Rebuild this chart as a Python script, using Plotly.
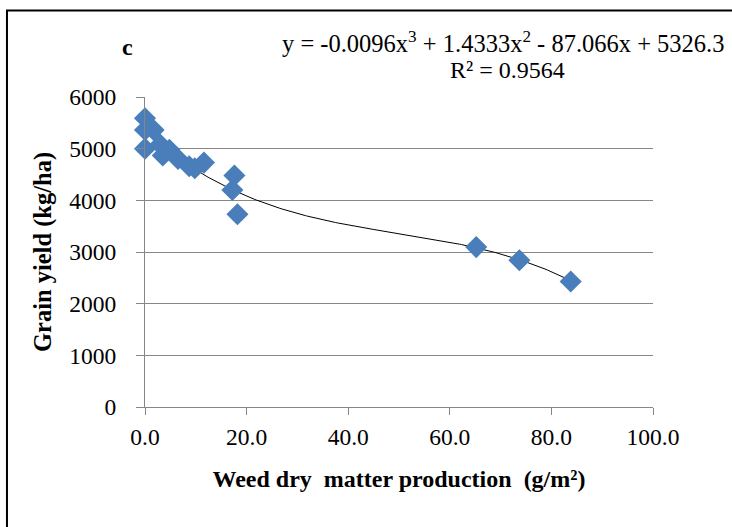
import numpy as np
import plotly.graph_objects as go

# Weed dry matter (g/m²) and grain yield (kg/ha)
weed_dm = [0.0, 0.0, 0.0, 1.7, 3.0, 3.5, 4.8, 6.5, 8.7, 9.8, 11.6,
           17.6, 17.2, 18.2, 65.2, 73.7, 83.8]
grain_yield = [5590, 5360, 5000, 5360, 5080, 4870, 4980, 4800, 4660, 4620, 4730,
               4480, 4200, 3730, 3095, 2840, 2430]

# Third-order polynomial trendline (highest power first)
trend_coef = [-0.0096, 1.4333, -87.066, 5326.3]
r_squared = 0.9564

x_ticks = [0, 20, 40, 60, 80, 100]
x_tick_text = ["0.0", "20.0", "40.0", "60.0", "80.0", "100.0"]
y_ticks = [0, 1000, 2000, 3000, 4000, 5000, 6000]

FONT = "Liberation Serif, Times New Roman, serif"
AXIS_GREY = "#868686"

xs = np.linspace(min(weed_dm), max(weed_dm), 200)
ys = np.polyval(trend_coef, xs)

fig = go.Figure()
fig.add_trace(go.Scatter(
    x=xs, y=ys, mode="lines",
    line=dict(color="black", width=1),
    hoverinfo="skip", showlegend=False,
))
fig.add_trace(go.Scatter(
    x=weed_dm, y=grain_yield, mode="markers",
    marker=dict(symbol="diamond", size=17, color="#4A7EBB", line=dict(width=0)),
    cliponaxis=False, showlegend=False,
))

c3, c2, c1, c0 = trend_coef
eq_text = f"y = {c3}x<sup>3</sup> + {c2}x<sup>2</sup> - {abs(c1)}x + {c0}"
r2_text = f"R² = {r_squared}"

fig.add_annotation(
    x=0.704, y=1.176, xref="paper", yref="paper", xanchor="center", yanchor="middle",
    text=eq_text, showarrow=False,
    font=dict(family=FONT, size=24.5, color="black"),
)
fig.add_annotation(
    x=0.713, y=1.086, xref="paper", yref="paper", xanchor="center", yanchor="middle",
    text=r2_text, showarrow=False,
    font=dict(family=FONT, size=24, color="black"),
)
fig.add_annotation(
    x=-0.035, y=1.16, xref="paper", yref="paper", xanchor="center", yanchor="middle",
    text="<b>c</b>", showarrow=False,
    font=dict(family=FONT, size=24, color="black"),
)

# Chart frame
fig.add_shape(
    type="rect", xref="paper", yref="paper",
    x0=-0.2717, x1=1.4, y0=-0.6, y1=1.279,
    line=dict(color="black", width=2), fillcolor="rgba(0,0,0,0)", layer="below",
)

fig.update_layout(
    width=732, height=527,
    margin=dict(l=145, r=79, t=97, b=120),
    paper_bgcolor="white", plot_bgcolor="white",
    font=dict(family=FONT, size=23.5, color="black"),
    xaxis=dict(
        range=[0, 100], tickvals=x_ticks, ticktext=x_tick_text,
        showgrid=False, zeroline=False,
        showline=True, linecolor=AXIS_GREY, linewidth=1,
        ticks="outside", ticklen=7, tickcolor=AXIS_GREY,
        tickfont=dict(family=FONT, size=23.5), ticklabelstandoff=2,
        title=dict(text="<b>Weed dry  matter production  (g/m²)</b>",
                   font=dict(family=FONT, size=24), standoff=20),
    ),
    yaxis=dict(
        range=[0, 6000], tickvals=y_ticks,
        showgrid=True, gridcolor=AXIS_GREY, gridwidth=1, zeroline=False,
        showline=True, linecolor=AXIS_GREY, linewidth=1,
        ticks="outside", ticklen=8, tickcolor=AXIS_GREY,
        tickfont=dict(family=FONT, size=23.5), ticklabelstandoff=15,
        title=dict(text="<b>Grain yield (kg/ha)</b>",
                   font=dict(family=FONT, size=24.5), standoff=10),
    ),
)

fig.write_html("out.html")
